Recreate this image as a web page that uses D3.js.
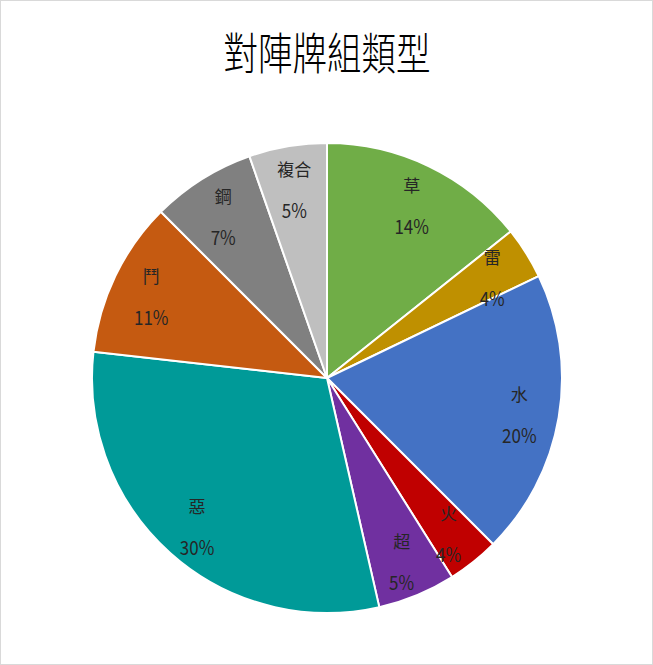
<!DOCTYPE html>
<html>
<head>
<meta charset="utf-8">
<script src="https://cdn.jsdelivr.net/npm/d3@7"></script>
<style>
  body { margin: 0; background: #fff; }
  text { font-family: "Noto Sans CJK TC", "Noto Sans CJK SC", sans-serif; }
</style>
</head>
<body>
<svg id="chart" width="653" height="665"></svg>
<script>
const types = ["草", "雷", "水", "火", "超", "惡", "鬥", "鋼", "複合"];
const counts = [8, 2, 11, 2, 3, 17, 6, 4, 3];
const colors = ["#70AD47", "#BF9000", "#4472C4", "#C00000", "#7030A0", "#009A98", "#C55A11", "#808080", "#BFBFBF"];
const title = "對陣牌組類型";

const svg = d3.select("#chart");
const W = 653, H = 665;
const cx = 327, cy = 378, R = 235;

svg.append("rect")
  .attr("x", 0.5).attr("y", 0.5)
  .attr("width", W - 1).attr("height", H - 1)
  .attr("fill", "#fff")
  .attr("stroke", "#d9d9d9");

// title font is a condensed one, so stretch it a bit vertically
svg.append("text")
  .attr("transform", `translate(${cx},70) scale(1,1.3)`)
  .attr("text-anchor", "middle")
  .attr("font-size", 34.5)
  .attr("font-weight", 300)
  .attr("fill", "#000")
  .text(title);

const data = types.map((t, i) => ({ type: t, count: counts[i], color: colors[i] }));
const total = d3.sum(counts);

const pie = d3.pie().value(d => d.count).sort(null);
const arc = d3.arc().innerRadius(0).outerRadius(R);
const labelArc = d3.arc().innerRadius(R * 0.83).outerRadius(R * 0.83);

const g = svg.append("g").attr("transform", `translate(${cx},${cy})`);
const arcs = pie(data);

g.selectAll("path")
  .data(arcs)
  .enter()
  .append("path")
  .attr("d", arc)
  .attr("fill", d => d.data.color)
  .attr("stroke", "#fff")
  .attr("stroke-width", 2)
  .attr("stroke-linejoin", "round");

const labels = g.selectAll("g.label")
  .data(arcs)
  .enter()
  .append("g")
  .attr("class", "label")
  .attr("transform", d => `translate(${labelArc.centroid(d)})`);

labels.append("text")
  .attr("y", -16)
  .attr("dy", "0.35em")
  .attr("text-anchor", "middle")
  .attr("font-size", 17)
  .attr("fill", "#262626")
  .text(d => d.data.type);

labels.append("text")
  .attr("transform", "translate(0,25) scale(1,1.15)")
  .attr("dy", "0.35em")
  .attr("text-anchor", "middle")
  .attr("font-size", 17)
  .attr("fill", "#262626")
  .text(d => Math.round(d.data.count / total * 100) + "%");
</script>
</body>
</html>
